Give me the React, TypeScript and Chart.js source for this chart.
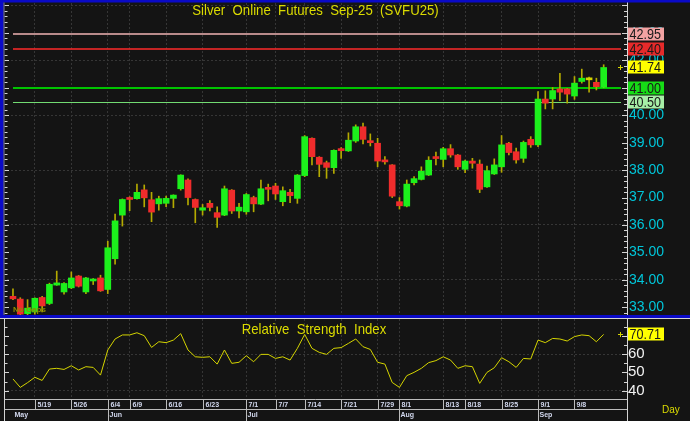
import React, { useEffect, useRef } from 'react';
import { Chart, registerables } from 'chart.js';
Chart.register(...registerables);

// ---- data (one candle per trading day, 1-based index) ----
const openPrices = [
  33.40, 33.30, 32.77, 32.83, 33.36, 33.14, 33.81, 33.56, 33.71, 34.14,
  33.56, 33.96, 34.07, 33.65, 34.77, 36.36, 36.99, 36.96, 37.28, 36.92,
  36.77, 36.79, 36.97, 37.32, 37.64, 36.93, 36.54, 36.79, 36.45, 36.36,
  37.27, 36.51, 36.48, 37.00, 36.76, 37.36, 37.42, 36.85, 37.19, 36.97,
  37.80, 39.16, 38.47, 38.27, 38.09, 38.76, 38.70, 39.06, 39.58, 39.06,
  38.98, 38.37, 38.19, 36.85, 36.69, 37.54, 37.66, 37.82, 38.47, 38.39,
  38.78, 38.55, 38.03, 38.33, 38.22, 37.39, 37.86, 38.12, 38.98, 38.67,
  38.43, 39.12, 38.92, 40.59, 40.59, 40.96, 40.96, 40.70, 41.23, 41.29,
  41.20, 41.02,
];
const highPrices = [
  33.67, 33.35, 33.28, 33.35, 33.40, 33.88, 34.32, 33.90, 34.29, 34.16,
  34.09, 34.05, 34.17, 35.41, 36.40, 36.95, 37.03, 37.49, 37.46, 37.19,
  37.05, 37.05, 37.10, 37.83, 37.68, 36.95, 36.75, 36.89, 36.66, 37.42,
  37.29, 36.79, 37.15, 37.05, 37.64, 37.49, 37.52, 37.39, 37.30, 37.84,
  39.26, 39.18, 38.49, 38.33, 38.74, 38.82, 39.36, 39.65, 39.71, 39.32,
  39.16, 38.49, 38.20, 37.00, 37.64, 37.76, 38.12, 38.49, 38.66, 38.83,
  38.93, 38.57, 38.37, 38.43, 38.37, 38.15, 38.41, 39.26, 39.01, 38.80,
  39.06, 39.22, 40.86, 40.89, 41.01, 41.53, 40.98, 41.41, 41.68, 41.39,
  41.35, 41.84,
];
const lowPrices = [
  33.28, 32.70, 32.71, 32.75, 32.83, 33.10, 33.80, 33.48, 33.68, 33.74,
  33.50, 33.83, 33.58, 33.50, 34.57, 35.96, 36.52, 36.94, 36.66, 36.12,
  36.54, 36.67, 36.63, 37.27, 36.73, 36.08, 36.36, 36.51, 35.91, 36.34,
  36.42, 36.26, 36.39, 36.48, 36.74, 36.88, 36.93, 36.70, 36.81, 36.79,
  37.76, 38.19, 37.76, 37.70, 37.88, 38.43, 38.68, 39.01, 38.95, 38.88,
  38.12, 38.22, 37.00, 36.58, 36.66, 37.46, 37.64, 37.80, 38.19, 38.12,
  38.47, 38.03, 37.91, 38.07, 37.18, 37.37, 37.84, 37.92, 38.55, 38.25,
  38.28, 38.83, 38.85, 40.23, 40.23, 40.53, 40.44, 40.58, 41.17, 40.84,
  40.92, 41.00,
];
const closePrices = [
  33.31, 32.75, 32.97, 33.33, 33.05, 33.84, 33.89, 33.87, 34.07, 33.77,
  34.07, 34.03, 33.60, 35.17, 36.15, 36.93, 36.93, 37.19, 36.99, 36.47,
  36.96, 36.97, 37.09, 37.82, 37.00, 36.64, 36.63, 36.64, 36.28, 37.32,
  36.51, 36.65, 37.11, 36.77, 37.32, 37.30, 37.13, 37.25, 37.07, 37.82,
  39.22, 38.49, 38.21, 38.10, 38.72, 38.71, 39.09, 39.58, 39.12, 39.00,
  38.33, 38.30, 37.05, 36.70, 37.49, 37.69, 37.96, 38.36, 38.42, 38.78,
  38.55, 38.12, 38.33, 38.25, 37.30, 37.98, 38.19, 38.92, 38.64, 38.37,
  39.01, 38.92, 40.59, 40.44, 40.90, 40.84, 40.77, 41.17, 41.35, 41.29,
  41.04, 41.74,
];
const rsiValues = [
  46.4, 41.8, 44.4, 47.3, 45.6, 51.8, 52.2, 51.6, 53.6, 51.3,
  53.1, 52.7, 48.5, 62.2, 68.2, 70.4, 70.4, 71.6, 70.0, 63.6,
  66.7, 66.2, 67.6, 71.1, 62.2, 58.5, 58.2, 58.5, 54.5, 62.2,
  54.9, 55.5, 59.1, 55.8, 59.8, 59.8, 57.6, 58.5, 56.7, 63.1,
  70.7, 63.1, 60.9, 59.8, 63.1, 63.5, 65.8, 68.2, 64.0, 62.5,
  55.5, 54.5, 44.5, 41.8, 48.2, 50.0, 52.2, 55.3, 56.4, 58.5,
  56.7, 52.2, 53.6, 53.1, 44.0, 50.0, 52.5, 58.0, 55.8, 52.7,
  57.6, 57.3, 67.6, 66.2, 68.5, 68.2, 67.1, 69.5, 70.4, 70.0,
  66.7, 70.71,
];
const dateTickIdx = [4, 9, 14, 17, 22, 27, 33, 37, 41, 46, 51, 54, 60, 63, 68, 73, 78];
const dateTickLabels = ['5/19', '5/26', '6/4', '6/9', '6/16', '6/23', '7/1', '7/7', '7/14', '7/21', '7/29', '8/1', '8/13', '8/18', '8/25', '9/1', '9/8'];
const monthTickIdx = [1, 14, 33, 54, 73];
const monthLabels = ['May', 'Jun', 'Jul', 'Aug', 'Sep'];
const levelValues = [42.95, 42.40, 41.00, 40.50];
const levelLineColors = ['#b98b8b', '#ff2a2a', '#00c400', '#72dc72'];
const levelLineWidths = [2, 1.5, 2, 1];
const levelBoxColors = ['#f2a2a2', '#e62a2a', '#16dc16', '#a6eea6'];
const TITLE = 'Silver  Online  Futures  Sep-25  (SVFU25)';
const RSI_TITLE = 'Relative  Strength  Index';
const FOOT_NOTE = 'No Gaps';
const PERIOD_LABEL = 'Day';

const X_MIN = 0.18;
const X_MAX = 85.2;
const PRICE_MIN = 32.72;
const PRICE_MAX = 44.09;
const RSI_MIN = 35.47;
const RSI_MAX = 79.1;

const SANS = '"Liberation Sans", Arial, sans-serif';
const NARROW_SCALE = 0.88;
const BG = '#141414';
const GRID = '#363636';
const AXIS = '#d4d4d4';

function hline(ctx: CanvasRenderingContext2D, x1: number, x2: number, y: number) {
  ctx.beginPath();
  ctx.moveTo(x1, y);
  ctx.lineTo(x2, y);
  ctx.stroke();
}
function vline(ctx: CanvasRenderingContext2D, x: number, y1: number, y2: number) {
  ctx.beginPath();
  ctx.moveTo(x, y1);
  ctx.lineTo(x, y2);
  ctx.stroke();
}
// narrow-looking text: regular sans squeezed horizontally
function narrowText(ctx: CanvasRenderingContext2D, text: string, x: number, y: number, align: CanvasTextAlign, sx = NARROW_SCALE) {
  ctx.save();
  ctx.translate(x, y);
  ctx.scale(sx, 1);
  ctx.textAlign = align;
  ctx.textBaseline = 'middle';
  ctx.fillText(text, 0, 0);
  ctx.restore();
}
function valueBox(ctx: CanvasRenderingContext2D, x: number, py: number, bg: string, text: string) {
  const cy = Math.round(py);
  ctx.fillStyle = bg;
  ctx.fillRect(x, cy - 6.5, 36, 13);
  ctx.fillStyle = '#1a1a1a';
  ctx.font = `15px ${SANS}`;
  narrowText(ctx, text, x + 1.5, cy + 0.5, 'left', 0.84);
}
function marker(ctx: CanvasRenderingContext2D, x: number, y: number) {
  ctx.strokeStyle = '#d4d400';
  ctx.lineWidth = 1;
  hline(ctx, x - 3, x + 2, Math.round(y) + 0.5);
  vline(ctx, x - 0.5, Math.round(y) - 2, Math.round(y) + 3);
}

const mainDecor = {
  id: 'mainDecor',
  beforeDraw(chart: any) {
    const { ctx } = chart;
    ctx.save();
    ctx.fillStyle = BG;
    ctx.fillRect(0, 0, chart.width, chart.height);
    ctx.restore();
  },
  beforeDatasetsDraw(chart: any) {
    const { ctx, chartArea: ca, scales } = chart;
    ctx.save();
    levelValues.forEach((v, i) => {
      const py = scales.y.getPixelForValue(v);
      ctx.strokeStyle = levelLineColors[i];
      ctx.lineWidth = levelLineWidths[i];
      const yy = levelLineWidths[i] === 1 ? Math.round(py) + 0.5 : Math.round(py);
      hline(ctx, ca.left + 6, ca.right - 6, yy);
    });
    ctx.restore();
  },
  afterDraw(chart: any) {
    const { ctx, chartArea: ca, scales } = chart;
    const y = scales.y;
    ctx.save();
    ctx.strokeStyle = AXIS;
    ctx.lineWidth = 1;
    vline(ctx, ca.right + 0.5, 0, chart.height);
    for (let k = Math.ceil(y.min * 5); k <= Math.floor(y.max * 5); k++) {
      const py = Math.round(y.getPixelForValue(k / 5)) + 0.5;
      const major = k % 5 === 0;
      hline(ctx, ca.right - (major ? 5 : 3), ca.right, py);
      hline(ctx, 4.5, major ? 9 : 7.5, py);
    }
    ctx.fillStyle = '#dcdc00';
    ctx.font = `15px ${SANS}`;
    narrowText(ctx, TITLE, 315.5, 10.5, 'center');
    ctx.fillStyle = '#8c8c00';
    ctx.font = `bold 8px ${SANS}`;
    ctx.textAlign = 'left';
    ctx.textBaseline = 'middle';
    ctx.fillText(FOOT_NOTE, ca.left + 6, ca.bottom - 5);
    const bx = ca.right + 1;
    valueBox(ctx, bx, y.getPixelForValue(levelValues[0]), levelBoxColors[0], levelValues[0].toFixed(2));
    valueBox(ctx, bx, y.getPixelForValue(levelValues[1]), levelBoxColors[1], levelValues[1].toFixed(2));
    const last = closePrices[closePrices.length - 1];
    valueBox(ctx, bx, y.getPixelForValue(last), '#ffff00', last.toFixed(2));
    valueBox(ctx, bx, y.getPixelForValue(levelValues[2]), levelBoxColors[2], levelValues[2].toFixed(2));
    valueBox(ctx, bx, y.getPixelForValue(levelValues[3]), levelBoxColors[3], levelValues[3].toFixed(2));
    marker(ctx, ca.right - 6, y.getPixelForValue(last));
    ctx.fillStyle = '#0a0ac8';
    ctx.fillRect(0, 0, chart.width, 2.5);
    ctx.fillRect(0, 0, 3.5, chart.height);
    ctx.strokeStyle = '#7a7aa8';
    vline(ctx, 4, 2.5, chart.height);
    ctx.restore();
  },
};

const rsiDecor = {
  id: 'rsiDecor',
  beforeDraw(chart: any) {
    const { ctx } = chart;
    ctx.save();
    ctx.fillStyle = BG;
    ctx.fillRect(0, 0, chart.width, chart.height);
    ctx.restore();
  },
  afterDraw(chart: any) {
    const { ctx, chartArea: ca, scales } = chart;
    const x = scales.x;
    const y = scales.y;
    ctx.save();
    ctx.strokeStyle = AXIS;
    ctx.lineWidth = 1;
    hline(ctx, 0, chart.width, 0.5);
    vline(ctx, 4.5, 0, chart.height);
    vline(ctx, ca.right + 0.5, 0, chart.height);
    for (let k = Math.ceil(y.min / 5); k <= Math.floor(y.max / 5); k++) {
      const py = Math.round(y.getPixelForValue(k * 5)) + 0.5;
      const major = k % 2 === 0;
      hline(ctx, ca.right - (major ? 5 : 3), ca.right, py);
      hline(ctx, 4.5, major ? 9 : 7.5, py);
    }
    ctx.fillStyle = '#dcdc00';
    ctx.font = `15px ${SANS}`;
    narrowText(ctx, RSI_TITLE, 314, 12, 'center');
    const lastRsi = rsiValues[rsiValues.length - 1];
    valueBox(ctx, ca.right + 1, y.getPixelForValue(lastRsi), '#ffff00', lastRsi.toFixed(2));
    marker(ctx, ca.right - 6, y.getPixelForValue(lastRsi));
    const r1 = Math.round(ca.bottom) + 0.5;
    const r2 = r1 + 10;
    ctx.strokeStyle = '#bcbcbc';
    hline(ctx, 4.5, ca.right, r1);
    hline(ctx, 4.5, ca.right, r2);
    ctx.font = `bold 7px ${SANS}`;
    ctx.textAlign = 'left';
    ctx.textBaseline = 'middle';
    ctx.fillStyle = '#d2d8ee';
    dateTickIdx.forEach((v, i) => {
      const px = Math.round(x.getPixelForValue(v)) + 0.5;
      vline(ctx, px, r1, r2);
      ctx.fillText(dateTickLabels[i], px + 2, r1 + 5.5);
    });
    monthTickIdx.forEach((v, i) => {
      const px = Math.round(x.getPixelForValue(v)) + 0.5;
      if (i > 0) vline(ctx, px, r2, chart.height);
      ctx.fillText(monthLabels[i], px + 1, r2 + 6);
    });
    ctx.fillStyle = '#dcdc00';
    ctx.font = `10px ${SANS}`;
    ctx.fillText(PERIOD_LABEL, 662, r2 + 1);
    ctx.restore();
  },
};

const candleIdx = closePrices.map((_, i) => i + 1);
const bodyColors = closePrices.map((c, i) =>
  c > openPrices[i] ? '#1cf01c' : c < openPrices[i] ? '#f02c2c' : '#d4d400'
);

const xTicks = (s: any) => {
  s.ticks = dateTickIdx.map((v) => ({ value: v }));
};
const fitX = (h: number) => (s: any) => {
  s.height = h;
  s.paddingLeft = 0;
  s.paddingRight = 0;
  s.paddingTop = 0;
  s.paddingBottom = 0;
};
const fitY = (s: any) => {
  s.width = 63;
  s.paddingTop = 0;
  s.paddingBottom = 0;
  s.paddingLeft = 0;
  s.paddingRight = 0;
};

export default function App() {
  const mainRef = useRef<HTMLCanvasElement>(null);
  const rsiRef = useRef<HTMLCanvasElement>(null);

  useEffect(() => {
    document.body.style.margin = '0';
    const main = new Chart(mainRef.current as HTMLCanvasElement, {
      type: 'bar',
      data: {
        datasets: [
          {
            label: 'Range',
            data: candleIdx.map((x, i) => ({ x, y: [lowPrices[i], highPrices[i]] })) as any,
            backgroundColor: '#b4aa00',
            barThickness: 1,
            grouped: false,
            order: 2,
          },
          {
            label: 'Open/Close',
            data: candleIdx.map((x, i) => ({ x, y: [openPrices[i], closePrices[i]] })) as any,
            backgroundColor: bodyColors,
            barThickness: 6,
            minBarLength: 2,
            grouped: false,
            order: 1,
          },
        ],
      },
      options: {
        animation: false,
        responsive: false,
        maintainAspectRatio: false,
        layout: { padding: { left: 7, top: 3, right: 0, bottom: 0 } },
        plugins: { legend: { display: false }, tooltip: { enabled: false } },
        scales: {
          x: {
            type: 'linear',
            min: X_MIN,
            max: X_MAX,
            offset: false,
            grid: { offset: false, color: GRID, drawTicks: false, borderDash: [2, 2] } as any,
            border: { display: false, dash: [2, 2] },
            ticks: { display: false },
            afterBuildTicks: xTicks,
            afterFit: fitX(0),
          },
          y: {
            position: 'right',
            min: PRICE_MIN,
            max: PRICE_MAX,
            ticks: {
              stepSize: 1,
              includeBounds: false,
              color: '#00c6da',
              font: { family: SANS, size: 14 },
              padding: 2,
              callback: (v: any) => (Number(v) > 43.5 ? '' : Number(v).toFixed(2)),
            },
            grid: {
              color: (c: any) => (Math.round(c.tick.value) % 2 === 0 ? GRID : 'rgba(0,0,0,0)'),
              drawTicks: false,
              borderDash: [2, 2],
            } as any,
            border: { display: false, dash: [2, 2] },
            afterFit: fitY,
          },
        },
      } as any,
      plugins: [mainDecor],
    });

    const rsi = new Chart(rsiRef.current as HTMLCanvasElement, {
      type: 'line',
      data: {
        datasets: [
          {
            label: 'RSI',
            data: candleIdx.map((x, i) => ({ x, y: rsiValues[i] })),
            borderColor: '#d4d400',
            borderWidth: 1,
            pointRadius: 0,
            tension: 0,
          },
        ],
      },
      options: {
        animation: false,
        responsive: false,
        maintainAspectRatio: false,
        layout: { padding: { left: 7, top: 1, right: 0, bottom: 0 } },
        plugins: { legend: { display: false }, tooltip: { enabled: false } },
        scales: {
          x: {
            type: 'linear',
            min: X_MIN,
            max: X_MAX,
            grid: { color: GRID, drawTicks: false, borderDash: [2, 2] } as any,
            border: { display: false, dash: [2, 2] },
            ticks: { display: false },
            afterBuildTicks: xTicks,
            afterFit: fitX(22),
          },
          y: {
            position: 'right',
            min: RSI_MIN,
            max: RSI_MAX,
            ticks: {
              stepSize: 10,
              includeBounds: false,
              color: '#f2f2f2',
              font: { family: SANS, size: 15 },
              padding: 1,
            },
            grid: {
              color: (c: any) => (Math.round(c.tick.value) % 20 === 0 ? GRID : 'rgba(0,0,0,0)'),
              drawTicks: false,
              borderDash: [2, 2],
            } as any,
            border: { display: false, dash: [2, 2] },
            afterFit: fitY,
          },
        },
      } as any,
      plugins: [rsiDecor],
    });

    return () => {
      main.destroy();
      rsi.destroy();
    };
  }, []);

  return (
    <div style={{ position: 'relative', width: 690, height: 421, background: BG, overflow: 'hidden' }}>
      <canvas ref={mainRef} width={690} height={315} style={{ position: 'absolute', left: 0, top: 0, width: 690, height: 315 }} />
      <div style={{ position: 'absolute', left: 0, top: 315, width: 690, height: 3, background: '#0a0ac8' }} />
      <canvas ref={rsiRef} width={690} height={103} style={{ position: 'absolute', left: 0, top: 318, width: 690, height: 103 }} />
    </div>
  );
}
